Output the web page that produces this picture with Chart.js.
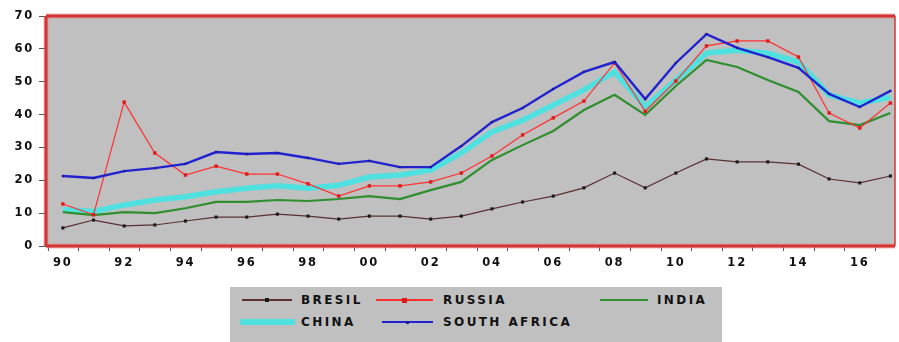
<!DOCTYPE html>
<html>
<head>
<meta charset="utf-8">
<script src="https://cdn.jsdelivr.net/npm/chart.js@4/dist/chart.umd.min.js"></script>
<style>
  html, body { margin: 0; padding: 0; background: #ffffff; }
  #wrap { position: relative; width: 899px; height: 342px; overflow: hidden; }
  #c { position: absolute; left: 0; top: 0; }
  #legend { position: absolute; left: 230px; top: 287px; width: 492px; height: 60px; background: #c0c0c0; }
  .sw { position: absolute; }
  .mk { position: absolute; }
  .lab { position: absolute; top: 0; font: bold 12px "DejaVu Sans", sans-serif; letter-spacing: 2.4px; color: #111; line-height: 14px; white-space: nowrap; }
</style>
</head>
<body>
<div id="wrap">
  <canvas id="c" width="899" height="342"></canvas>
  <div id="legend"></div>
</div>
<script>
// ---- data ----
const years = [1990,1991,1992,1993,1994,1995,1996,1997,1998,1999,2000,2001,2002,2003,2004,2005,2006,2007,2008,2009,2010,2011,2012,2013,2014,2015,2016,2017];
const seriesNames = ["BRESIL", "RUSSIA", "INDIA", "CHINA", "SOUTH AFRICA"];
const bresil  = [5.5,7.9,6.1,6.4,7.6,8.8,8.8,9.7,9.1,8.2,9.1,9.1,8.2,9.1,11.3,13.4,15.2,17.7,22.2,17.7,22.2,26.5,25.6,25.6,24.9,20.4,19.2,21.3];
const russia  = [12.8,9.5,43.8,28.3,21.6,24.3,21.9,21.9,18.9,15.2,18.3,18.3,19.5,22.2,27.4,33.8,39.0,44.1,55.7,41.0,50.2,60.9,62.4,62.4,57.5,40.5,35.9,43.5];
const india   = [10.3,9.4,10.3,10.0,11.5,13.4,13.4,14.0,13.7,14.3,15.2,14.3,17.0,19.5,26.2,30.7,35.0,41.4,46.0,39.9,48.7,56.6,54.5,50.5,46.9,38.0,36.8,40.5];
const china   = [11.0,10.5,12.5,14.0,15.0,16.5,17.6,18.3,17.6,18.5,21.0,21.6,23.1,28.3,34.7,38.3,42.9,47.5,53.0,42.3,50.5,58.7,59.6,58.7,56.0,46.0,43.5,45.3];
const safrica = [21.3,20.7,22.8,23.7,25.0,28.6,28.0,28.3,26.8,25.0,25.9,24.0,24.0,30.4,37.7,42.0,47.8,53.0,56.0,44.7,55.7,64.5,60.3,57.5,54.2,46.3,42.3,47.2];
const yTicks = [0,10,20,30,40,50,60,70];
const xLabelYears = [1990,1992,1994,1996,1998,2000,2002,2004,2006,2008,2010,2012,2014,2016];

const pts = arr => years.map((y, i) => ({ x: y, y: arr[i] }));

const styles = [
  { line: '#5a3030', width: 1.2, point: '#1a1a1a', radius: 2.2, order: 2 },
  { line: '#ff3030', width: 1.2, point: '#e01818', radius: 2.4, order: 3 },
  { line: '#2f8f2f', width: 2.2, point: '#2f8f2f', radius: 0, order: 4 },
  { line: '#4fe0e0', width: 5.5, point: '#4fe0e0', radius: 0, order: 5 },
  { line: '#2222d0', width: 2.4, point: '#1a1a9a', radius: 1.6, order: 1 }
];
const seriesData = [bresil, russia, india, china, safrica];

const datasets = seriesNames.map((name, i) => ({
  label: name,
  data: pts(seriesData[i]),
  borderColor: styles[i].line,
  backgroundColor: styles[i].point,
  borderWidth: styles[i].width,
  pointRadius: styles[i].radius,
  pointStyle: 'rect',
  pointBorderWidth: 0,
  pointBackgroundColor: styles[i].point,
  tension: 0,
  fill: false,
  order: styles[i].order
}));

const frame = {
  id: 'frame',
  beforeDraw(chart) {
    const { ctx, chartArea: a } = chart;
    ctx.letterSpacing = '1.8px';
    ctx.save();
    ctx.letterSpacing = '0px';
    ctx.fillStyle = '#c0c0c0';
    ctx.fillRect(a.left, a.top, a.right - a.left, a.bottom - a.top);
    ctx.restore();
  },
  beforeDatasetsDraw(chart) {
    const { ctx, chartArea: a, scales } = chart;
    ctx.save();
    ctx.letterSpacing = '0px';
    ctx.strokeStyle = '#6a4a4a';
    ctx.lineWidth = 1;
    for (let v = years[0] - 0.5; v <= years[years.length - 1] + 0.6; v += 1) {
      const px = Math.round(scales.x.getPixelForValue(v)) + 0.5;
      if (px < a.left - 1 || px > a.right + 1) continue;
      ctx.beginPath();
      ctx.moveTo(px, a.bottom);
      ctx.lineTo(px, a.bottom + 5);
      ctx.stroke();
    }
    ctx.restore();
  },
  afterDatasetsDraw(chart) {
    const { ctx, chartArea: a } = chart;
    ctx.save();
    ctx.strokeStyle = 'rgba(230,120,120,0.5)';
    ctx.lineWidth = 5;
    ctx.beginPath();
    ctx.moveTo(a.left, a.top); ctx.lineTo(a.right, a.top);
    ctx.moveTo(a.left, a.top); ctx.lineTo(a.left, a.bottom);
    ctx.moveTo(a.left, a.bottom); ctx.lineTo(a.right, a.bottom);
    ctx.stroke();
    ctx.strokeStyle = '#d63434';
    ctx.lineWidth = 3;
    ctx.beginPath();
    ctx.moveTo(a.left, a.top); ctx.lineTo(a.right, a.top);
    ctx.moveTo(a.left, a.top); ctx.lineTo(a.left, a.bottom);
    ctx.moveTo(a.left, a.bottom); ctx.lineTo(a.right, a.bottom);
    ctx.stroke();
    ctx.lineWidth = 1.5;
    ctx.beginPath();
    ctx.moveTo(a.right, a.top); ctx.lineTo(a.right, a.bottom);
    ctx.stroke();
    ctx.restore();
  }
};

new Chart(document.getElementById('c'), {
  type: 'line',
  data: { datasets },
  plugins: [frame],
  options: {
    responsive: false,
    animation: false,
    events: [],
    layout: { padding: { top: 16, right: 2, left: 0, bottom: 0 } },
    plugins: { legend: { display: false }, tooltip: { enabled: false } },
    scales: {
      x: {
        type: 'linear',
        min: 1989.45,
        max: 2017.15,
        border: { display: false },
        grid: { display: false, drawTicks: false },
        afterBuildTicks(scale) { scale.ticks = xLabelYears.map(v => ({ value: v })); },
        afterFit(scale) { scale.height = 96; },
        ticks: {
          autoSkip: false,
          maxRotation: 0,
          padding: 10,
          color: '#111',
          font: { family: 'DejaVu Sans', weight: 'bold', size: 11.5 },
          callback: v => String(v % 100).padStart(2, '0')
        }
      },
      y: {
        min: 0,
        max: 70,
        border: { display: false },
        afterBuildTicks(scale) { scale.ticks = yTicks.map(v => ({ value: v })); },
        afterFit(scale) { scale.width = 46; },
        grid: { drawOnChartArea: false, drawTicks: true, tickLength: 7, tickColor: '#555' },
        ticks: {
          padding: 5,
          color: '#111',
          font: { family: 'DejaVu Sans', weight: 'bold', size: 11.5 }
        }
      }
    }
  }
});

// ---- HTML legend built from the series names and styles ----
const legendPos = [
  { x: 12, y: 6, lw: 50, tx: 71 },
  { x: 146, y: 6, lw: 57, tx: 213 },
  { x: 370, y: 6, lw: 48, tx: 427 },
  { x: 10, y: 28, lw: 55, tx: 71 },
  { x: 152, y: 28, lw: 51, tx: 213 }
];
const leg = document.getElementById('legend');
seriesNames.forEach((name, i) => {
  const p = legendPos[i], s = styles[i];
  const sw = document.createElement('div');
  sw.className = 'sw';
  sw.style.left = p.x + 'px';
  sw.style.top = (p.y + 7 - s.width / 2) + 'px';
  sw.style.width = p.lw + 'px';
  sw.style.height = Math.max(1, s.width) + 'px';
  sw.style.background = s.line;
  leg.appendChild(sw);
  if (s.radius > 0) {
    const mk = document.createElement('div');
    mk.className = 'mk';
    const d = Math.round(s.radius * 2);
    mk.style.width = d + 'px';
    mk.style.height = d + 'px';
    mk.style.left = (p.x + p.lw / 2 - d / 2) + 'px';
    mk.style.top = (p.y + 7 - d / 2) + 'px';
    mk.style.background = s.point;
    leg.appendChild(mk);
  }
  const lab = document.createElement('div');
  lab.className = 'lab';
  lab.style.left = p.tx + 'px';
  lab.style.top = p.y + 'px';
  lab.textContent = name;
  leg.appendChild(lab);
});
</script>
</body>
</html>
